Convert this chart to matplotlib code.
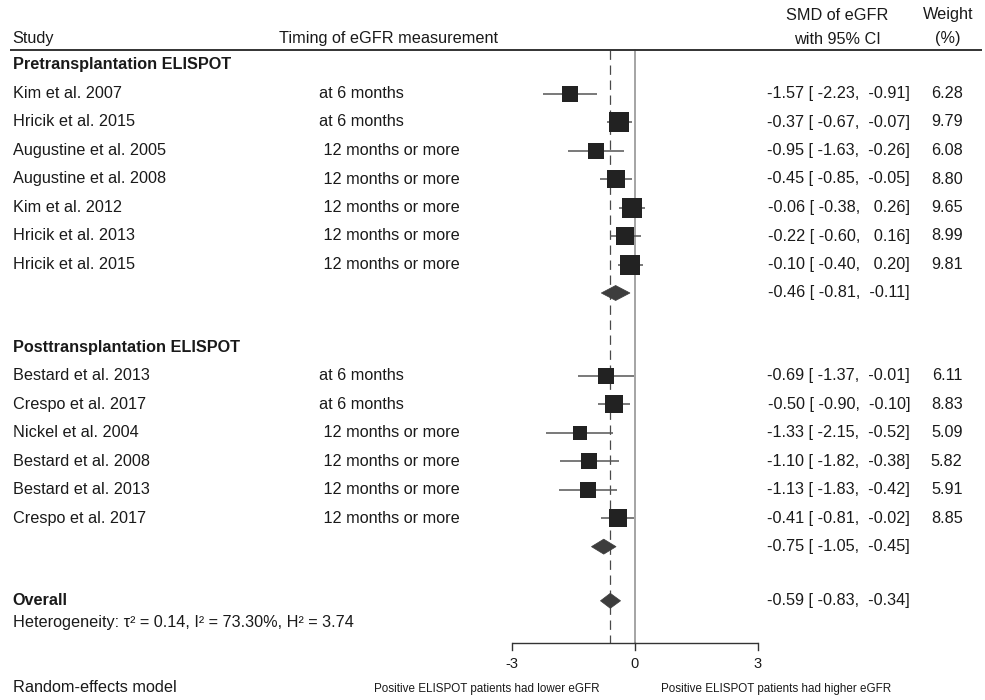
import matplotlib
matplotlib.use("Agg")
import numpy as np
import matplotlib.pyplot as plt
from matplotlib.transforms import blended_transform_factory
from matplotlib.patches import Polygon

# ---------------- data ----------------
pre_studies = ["Kim et al. 2007", "Hricik et al. 2015", "Augustine et al. 2005",
               "Augustine et al. 2008", "Kim et al. 2012", "Hricik et al. 2013",
               "Hricik et al. 2015"]
pre_timing = ["at 6 months", "at 6 months", "12 months or more", "12 months or more",
              "12 months or more", "12 months or more", "12 months or more"]
pre_smd = [-1.57, -0.37, -0.95, -0.45, -0.06, -0.22, -0.10]
pre_lo = [-2.23, -0.67, -1.63, -0.85, -0.38, -0.60, -0.40]
pre_hi = [-0.91, -0.07, -0.26, -0.05, 0.26, 0.16, 0.20]
pre_w = [6.28, 9.79, 6.08, 8.80, 9.65, 8.99, 9.81]
pre_sub = [-0.46, -0.81, -0.11]

post_studies = ["Bestard et al. 2013", "Crespo et al. 2017", "Nickel et al. 2004",
                "Bestard et al. 2008", "Bestard et al. 2013", "Crespo et al. 2017"]
post_timing = ["at 6 months", "at 6 months", "12 months or more", "12 months or more",
               "12 months or more", "12 months or more"]
post_smd = [-0.69, -0.50, -1.33, -1.10, -1.13, -0.41]
post_lo = [-1.37, -0.90, -2.15, -1.82, -1.83, -0.81]
post_hi = [-0.01, -0.10, -0.52, -0.38, -0.42, -0.02]
post_w = [6.11, 8.83, 5.09, 5.82, 5.91, 8.85]
post_sub = [-0.75, -1.05, -0.45]

overall = [-0.59, -0.83, -0.34]
group_names = ["Pretransplantation ELISPOT", "Posttransplantation ELISPOT"]
heterogeneity = "Heterogeneity: \u03c4\u00b2 = 0.14, I\u00b2 = 73.30%, H\u00b2 = 3.74"
xticks = [-3, 0, 3]
left_note = "Positive ELISPOT patients had lower eGFR"
right_note = "Positive ELISPOT patients had higher eGFR"
model_note = "Random-effects model"

# ---------------- layout ----------------
plt.rcParams['font.family'] = ['Liberation Sans', 'DejaVu Sans']
W, H = 985, 700
FS = 11.7
TXT = "#1a1a1a"
fig = plt.figure(figsize=(W / 100, H / 100), dpi=100)
ax = fig.add_axes([0, 0, 1, 1])
ax.axis("off")
PPU = 41.0        # pixels per SMD unit
ZERO = 634.5      # pixel x of SMD = 0
ax.set_xlim(-ZERO / PPU, (W - ZERO) / PPU)
ax.set_ylim(H, 0)
tx = blended_transform_factory(fig.transFigure, ax.transData)


def px(x):
    return x / W


STEP = 28.5
Y0 = 65.0
GAP = 1.9
TOP_LINE = 50
AXIS_Y = 643

# column positions (pixels)
C_STUDY = 12.7
C_TIME = 319.3
C_SMD = 910
C_W = 962.5
C_SMDH = 837
C_WH = 948


def ci_text(e, l, h):
    return f"{e:.2f} [{l:6.2f}, {h:6.2f}]"


def timing_text(t):
    return t if t.startswith("at") else " " + t


def draw_diamond(y, e, l, h):
    half = 7.5
    poly = Polygon([(l, y), (e, y - half), (h, y), (e, y + half)], closed=True,
                   facecolor="#3d3d3d", edgecolor="#3d3d3d", lw=0.5, zorder=5)
    ax.add_patch(poly)
    ax.text(px(C_SMD), y, ci_text(e, l, h), transform=tx, ha="right", va="center",
            fontsize=FS, color=TXT)


# header
ax.text(px(C_STUDY), 38, "Study", transform=tx, ha="left", va="center", fontsize=FS, color=TXT)
ax.text(px(279.3), 38, "Timing of eGFR measurement", transform=tx, ha="left", va="center",
        fontsize=FS, color=TXT)
ax.text(px(C_SMDH), 15, "SMD of eGFR", transform=tx, ha="center", va="center", fontsize=FS, color=TXT)
ax.text(px(C_SMDH), 39, "with 95% CI", transform=tx, ha="center", va="center", fontsize=FS, color=TXT)
ax.text(px(C_WH), 15, "Weight", transform=tx, ha="center", va="center", fontsize=FS, color=TXT)
ax.text(px(C_WH), 39, "(%)", transform=tx, ha="center", va="center", fontsize=FS, color=TXT)
ax.plot([px(10), px(982)], [TOP_LINE, TOP_LINE], transform=tx, color="#333333", lw=1.4,
        solid_capstyle="butt")

# reference lines
ax.plot([0, 0], [TOP_LINE, AXIS_Y], color="#8c8c8c", lw=1.1, zorder=1)
ax.plot([overall[0], overall[0]], [TOP_LINE, AXIS_Y], color="#4a4a4a", lw=0.9,
        dashes=(7.5, 4.5), zorder=1)

groups = [(group_names[0], pre_studies, pre_timing, pre_smd, pre_lo, pre_hi, pre_w, pre_sub),
          (group_names[1], post_studies, post_timing, post_smd, post_lo, post_hi, post_w, post_sub)]

row = 0.0
for gname, studies, timing, smd, lo, hi, w, sub in groups:
    y = Y0 + STEP * row
    ax.text(px(C_STUDY), y, gname, transform=tx, ha="left", va="center", fontsize=FS,
            fontweight="bold", color=TXT)
    for s, t, e, l, h, wt in zip(studies, timing, smd, lo, hi, w):
        row += 1
        y = Y0 + STEP * row
        ax.text(px(C_STUDY), y, s, transform=tx, ha="left", va="center", fontsize=FS, color=TXT)
        ax.text(px(C_TIME), y, timing_text(t), transform=tx, ha="left", va="center",
                fontsize=FS, color=TXT)
        ax.plot([l, h], [y, y], color="#555555", lw=1.1, zorder=3, solid_capstyle="butt")
        side_pt = 6.3 * np.sqrt(wt) * 0.72
        ax.scatter([e], [y], marker="s", s=side_pt ** 2, color="#222222", linewidths=0, zorder=4)
        ax.text(px(C_SMD), y, ci_text(e, l, h), transform=tx, ha="right", va="center",
                fontsize=FS, color=TXT)
        ax.text(px(C_W), y, f"{wt:.2f}", transform=tx, ha="right", va="center",
                fontsize=FS, color=TXT)
    row += 1
    draw_diamond(Y0 + STEP * row, *sub)
    row += GAP

# overall
row -= GAP
row += GAP
y_ov = Y0 + STEP * row
ax.text(px(C_STUDY), y_ov, "Overall", transform=tx, ha="left", va="center", fontsize=FS,
        fontweight="bold", color=TXT)
draw_diamond(y_ov, *overall)
ax.text(px(C_STUDY), y_ov + 21.5, heterogeneity, transform=tx, ha="left", va="center",
        fontsize=FS, color=TXT)

# x axis
ax.plot([xticks[0], xticks[-1]], [AXIS_Y, AXIS_Y], color="#333333", lw=1.0, zorder=2,
        solid_capstyle="butt")
for t in xticks:
    ax.plot([t, t], [AXIS_Y, AXIS_Y + 7], color="#333333", lw=1.0, zorder=2)
    ax.text(t, 664, f"{t:d}", ha="center", va="center", fontsize=10.5, color=TXT)

ax.text(px(600), 689, left_note, transform=tx, ha="right", va="center", fontsize=8.4, color=TXT)
ax.text(px(661), 689, right_note, transform=tx, ha="left", va="center", fontsize=8.4, color=TXT)
ax.text(px(C_STUDY), 688, model_note, transform=tx, ha="left", va="center", fontsize=FS, color=TXT)

fig.savefig("out.png", dpi=100, facecolor="white")
